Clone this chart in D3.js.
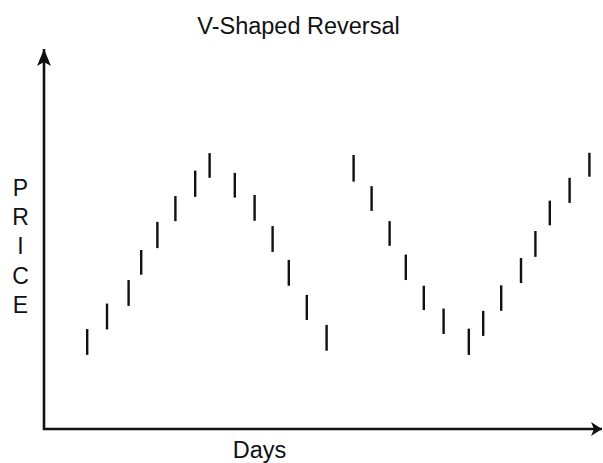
<!DOCTYPE html>
<html>
<head>
<meta charset="utf-8">
<script src="https://cdn.jsdelivr.net/npm/d3@7"></script>
<style>
  body { margin: 0; background: #fff; }
  svg { display: block; }
  text { font-family: 'Liberation Sans', Arial, sans-serif; fill: #111; }
</style>
</head>
<body>
<div id="chart"></div>
<script>
// day of each bar (uneven spacing as drawn)
const days = [2.4, 3.5, 4.7, 5.4, 6.3, 7.3, 8.4, 9.2, 10.6, 11.7, 12.7, 13.6, 14.6, 15.7,
  17.2, 18.2, 19.2, 20.1, 21.1, 22.2, 23.6, 24.4, 25.4, 26.5, 27.3, 28.1, 29.2, 30.3]
const highs = [26.3, 33.0, 39.2, 47.1, 54.5, 61.3, 68.0, 72.6, 67.4, 61.6, 53.4, 44.5, 35.3, 27.4,
  72.1, 63.9, 54.7, 45.9, 37.7, 31.7, 26.4, 31.1, 37.8, 45.0, 52.1, 60.1, 66.1, 72.7]
const lows = [19.5, 26.2, 32.4, 40.6, 47.6, 54.7, 61.1, 66.1, 60.9, 54.8, 46.6, 37.7, 28.7, 20.6,
  65.1, 57.4, 48.2, 39.2, 31.3, 25.0, 19.5, 24.5, 31.1, 38.4, 45.3, 53.6, 59.5, 66.4]
const yLabel = ['P', 'R', 'I', 'C', 'E']

const width = 603
const height = 463
const originX = 44
const originY = 429

var x = d3.scaleLinear().domain([0, 31]).range([originX, 602])
var y = d3.scaleLinear().domain([0, 100]).range([originY, 49])

var svg = d3.select('#chart')
  .append('svg')
  .attr('width', width)
  .attr('height', height)

var bars = days.map(function (d, i) {
  return { day: d, high: highs[i], low: lows[i] }
})

// price bars
svg.selectAll('.bar')
  .data(bars)
  .enter().append('line')
  .attr('class', 'bar')
  .attr('x1', function (d) { return x(d.day) })
  .attr('x2', function (d) { return x(d.day) })
  .attr('y1', function (d) { return y(d.high) })
  .attr('y2', function (d) { return y(d.low) })
  .attr('stroke', '#111')
  .attr('stroke-width', 2.4)

// axes with arrow heads
svg.append('path')
  .attr('d', 'M' + x(31) + ',' + y(0) + 'L' + x(0) + ',' + y(0) + 'L' + x(0) + ',' + y(100))
  .attr('fill', 'none')
  .attr('stroke', '#111')
  .attr('stroke-width', 2.6)

var yTip = [x(0), y(100)]
svg.append('path')
  .attr('d', 'M' + yTip[0] + ',' + yTip[1] +
    'L' + (yTip[0] + 7) + ',' + (yTip[1] + 17) +
    'L' + yTip[0] + ',' + (yTip[1] + 13) +
    'L' + (yTip[0] - 7) + ',' + (yTip[1] + 17) + 'Z')
  .attr('fill', '#111')

var xTip = [x(31), y(0)]
svg.append('path')
  .attr('d', 'M' + xTip[0] + ',' + xTip[1] +
    'L' + (xTip[0] - 11) + ',' + (xTip[1] - 7) +
    'L' + (xTip[0] - 8) + ',' + xTip[1] +
    'L' + (xTip[0] - 11) + ',' + (xTip[1] + 7) + 'Z')
  .attr('fill', '#111')

// title
svg.append('text')
  .attr('x', 298.5)
  .attr('y', 34)
  .attr('text-anchor', 'middle')
  .attr('font-size', '23.5px')
  .text('V-Shaped Reversal')

// x label
svg.append('text')
  .attr('x', 259.5)
  .attr('y', 458)
  .attr('text-anchor', 'middle')
  .attr('font-size', '23.5px')
  .text('Days')

// y label, stacked letters
svg.selectAll('.ylab')
  .data(yLabel)
  .enter().append('text')
  .attr('class', 'ylab')
  .attr('x', 20.5)
  .attr('y', function (d, i) { return 196 + i * 29.2 })
  .attr('text-anchor', 'middle')
  .attr('font-size', '23px')
  .text(function (d) { return d })
</script>
</body>
</html>
